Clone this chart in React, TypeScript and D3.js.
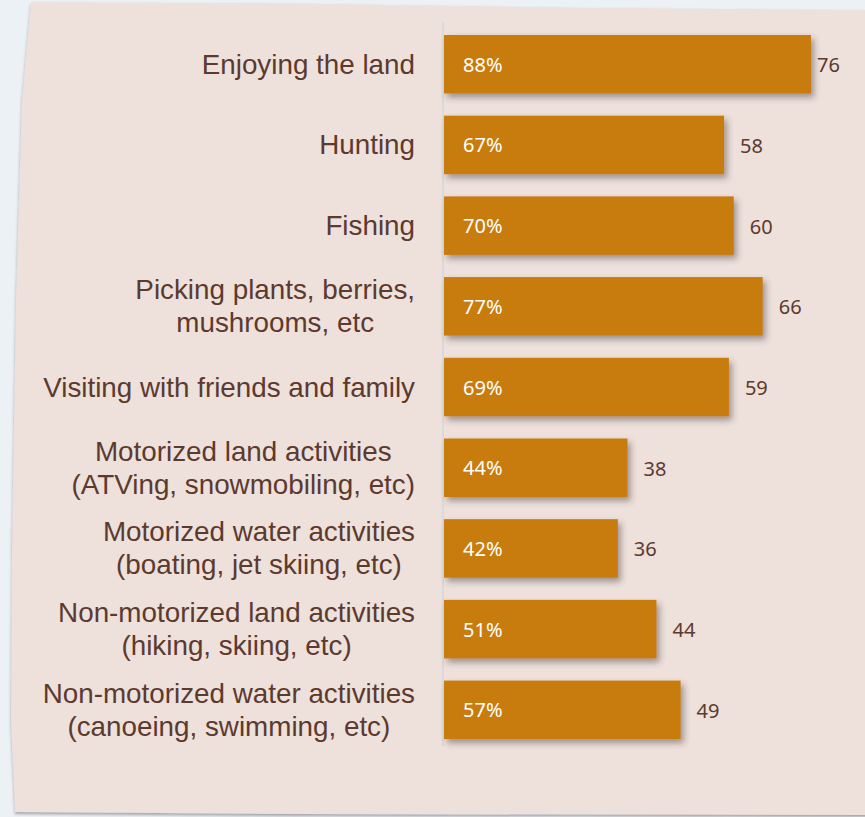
import React from "react";
import * as d3 from "d3";

const categories: string[][] = [
  ["Enjoying the land"],
  ["Hunting"],
  ["Fishing"],
  ["Picking plants, berries,", "mushrooms, etc"],
  ["Visiting with friends and family"],
  ["Motorized land activities", "(ATVing, snowmobiling, etc)"],
  ["Motorized water activities", "(boating, jet skiing, etc)"],
  ["Non-motorized land activities", "(hiking, skiing, etc)"],
  ["Non-motorized water activities", "(canoeing, swimming, etc)"],
];
const counts: number[] = [76, 58, 60, 66, 59, 38, 36, 44, 49];
const percents: string[] = ["88%", "67%", "70%", "77%", "69%", "44%", "42%", "51%", "57%"];

const W = 865;
const H = 817;
const LABEL_FONT = "27.8px 'Liberation Sans', Arial, sans-serif";

let ctx: CanvasRenderingContext2D | null = null;
function measure(text: string, font: string): number {
  if (!ctx) {
    const c = document.createElement("canvas");
    ctx = c.getContext("2d");
  }
  if (!ctx) return text.length * 13;
  ctx.font = font;
  return ctx.measureText(text).width;
}

export default function App() {
  const keys = categories.map((c) => c.join(" "));
  const x = d3.scaleLinear().domain([0, 76]).range([444, 811]);
  const y = d3
    .scaleBand<string>()
    .domain(keys)
    .range([23.9, 750.2])
    .paddingInner(0.275)
    .paddingOuter(0.1375);
  const bw = y.bandwidth();
  const labelRight = 415;
  const valueMaxX = 817;

  const panelPts: [number, number][] = [
    [31, 2], [300, 3.5], [600, 8], [870, 10], [870, 815], [300, 814], [15, 812],
    [11, 720], [12, 550], [16, 300], [22, 100],
  ];
  const panel = d3.line().curve(d3.curveLinear)(panelPts) + "Z";

  return (
    <svg width={W} height={H} style={{ position: "absolute", left: 0, top: 0 }}>
      <defs>
        <filter id="barShadow" x="-10%" y="-20%" width="130%" height="160%">
          <feDropShadow dx="3" dy="4" stdDeviation="3" floodColor="#3a3030" floodOpacity="0.45" />
        </filter>
        <filter id="panelShadow" x="-5%" y="-5%" width="110%" height="110%">
          <feDropShadow dx="0" dy="2" stdDeviation="1.5" floodColor="#555" floodOpacity="0.5" />
        </filter>
      </defs>
      <rect x={0} y={0} width={W} height={H} fill="#ecf1f6" />
      <path d={panel} fill="#eee0db" filter="url(#panelShadow)" />
      <line x1={443} x2={443} y1={22} y2={746} stroke="#d3d9de" strokeWidth={1.5} />
      {keys.map((k, i) => {
        const y0 = y(k) as number;
        const cy = y0 + bw / 2;
        const lines = categories[i];
        const widths = lines.map((l) => measure(l, LABEL_FONT));
        const maxW = Math.max(...widths);
        const cx = labelRight - maxW / 2;
        const lh = 33;
        const start = cy - ((lines.length - 1) * lh) / 2;
        const xe = x(counts[i]);
        const vx = Math.min(xe + 16, valueMaxX);
        return (
          <g key={k}>
            <rect x={x(0)} y={y0} width={xe - x(0)} height={bw} fill="#c87b10" filter="url(#barShadow)" />
            <text
              x={x(0) + 19}
              y={cy + 7.5}
              fill="#ffffff"
              style={{ font: "20px 'Noto Sans', sans-serif" }}
            >
              {percents[i]}
            </text>
            <text x={vx} y={cy + 8} fill="#5c3a2e" style={{ font: "20px 'Noto Sans', sans-serif" }}>
              {counts[i]}
            </text>
            {lines.map((l, j) => (
              <text
                key={j}
                x={cx}
                y={start + j * lh + 9.5}
                textAnchor="middle"
                fill="#5c3a2e"
                style={{ font: LABEL_FONT }}
              >
                {l}
              </text>
            ))}
          </g>
        );
      })}
    </svg>
  );
}
